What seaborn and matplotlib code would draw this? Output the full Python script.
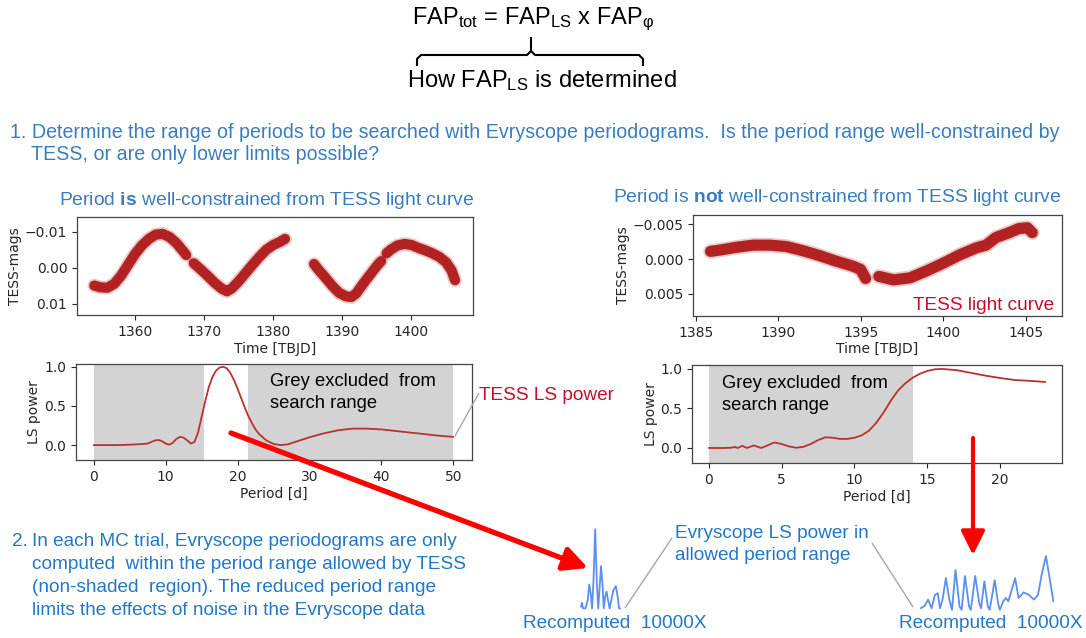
import matplotlib
matplotlib.use("Agg")
import matplotlib.pyplot as plt
from matplotlib.lines import Line2D
from matplotlib.patches import FancyArrowPatch
import pandas as pd
import seaborn as sns

# ---- data ----
# left TESS light curve (period well constrained), four orbit segments
lc_a_t = [
    [1354.1, 1355.0, 1356.0, 1357.0, 1358.0, 1359.0, 1360.0, 1361.0, 1362.0, 1363.0, 1364.0, 1365.0, 1366.0, 1367.0, 1367.4],
    [1368.5, 1369.5, 1370.5, 1371.5, 1372.5, 1373.3, 1374.0, 1375.0, 1376.0, 1377.0, 1378.0, 1379.0, 1380.0, 1381.0, 1381.7],
    [1385.9, 1386.5, 1387.5, 1388.5, 1389.5, 1390.5, 1391.3, 1392.0, 1393.0, 1394.0, 1395.0, 1395.6],
    [1396.4, 1397.0, 1398.0, 1399.0, 1400.0, 1401.0, 1402.0, 1403.0, 1404.0, 1405.0, 1405.8, 1406.3],
]
lc_a_mag = [
    [0.0050, 0.0055, 0.0056, 0.0045, 0.0022, -0.0008, -0.0038, -0.0062, -0.0080, -0.0092, -0.0094, -0.0085, -0.0068, -0.0045, -0.0035],
    [-0.0012, 0.0005, 0.0023, 0.0042, 0.0058, 0.0066, 0.0058, 0.0038, 0.0015, -0.0008, -0.0030, -0.0050, -0.0063, -0.0072, -0.0080],
    [-0.0010, 0.0005, 0.0027, 0.0050, 0.0070, 0.0080, 0.0082, 0.0072, 0.0045, 0.0020, -0.0005, -0.0018],
    [-0.0040, -0.0050, -0.0062, -0.0066, -0.0063, -0.0055, -0.0048, -0.0040, -0.0030, -0.0015, 0.0008, 0.0035],
]
# right TESS light curve (period not well constrained), two segments
lc_b_t = [
    [1385.9, 1386.5, 1387.5, 1388.5, 1389.5, 1390.5, 1391.5, 1392.5, 1393.5, 1394.5, 1395.0, 1395.3],
    [1396.1, 1397.0, 1398.0, 1399.0, 1400.0, 1401.0, 1402.0, 1402.6, 1403.2, 1404.0, 1404.6, 1405.1, 1405.4],
]
lc_b_mag = [
    [-0.0011, -0.0013, -0.0017, -0.0020, -0.0020, -0.0018, -0.0012, -0.0005, 0.0003, 0.0010, 0.0015, 0.0028],
    [0.0025, 0.0030, 0.0027, 0.0017, 0.0006, -0.0006, -0.0016, -0.0020, -0.0031, -0.0038, -0.0044, -0.0045, -0.0038],
]

# TESS LS periodograms
ls_a_period = [0, 1, 2, 3, 4, 5, 6, 7, 7.5, 8, 8.5, 9, 9.5, 10, 10.5, 11, 11.5, 12, 12.5, 13, 13.5, 14,
               14.5, 15, 15.5, 16, 16.5, 17, 17.5, 18, 18.5, 19, 19.5, 20, 20.5, 21, 21.5, 22, 22.5, 23,
               24, 25, 26, 27, 28, 29, 30, 32, 34, 36, 38, 40, 42, 44, 46, 48, 50]
ls_a_power = [0, 0, 0, 0, 0.002, 0.005, 0.01, 0.015, 0.02, 0.04, 0.06, 0.065, 0.05, 0.02, 0.005, 0.03,
              0.08, 0.105, 0.095, 0.06, 0.02, 0.04, 0.16, 0.36, 0.56, 0.74, 0.87, 0.95, 0.99, 1.0, 0.98,
              0.92, 0.83, 0.72, 0.60, 0.48, 0.37, 0.28, 0.20, 0.14, 0.06, 0.015, 0.0, 0.01, 0.04, 0.07,
              0.10, 0.15, 0.19, 0.21, 0.21, 0.20, 0.18, 0.16, 0.14, 0.12, 0.105]
ls_b_period = [0, 0.5, 1.0, 1.5, 1.8, 2.0, 2.3, 2.6, 3.1, 3.6, 4.0, 4.5, 5.0, 5.5, 6.0, 6.5, 7.0, 7.5,
               8.0, 8.5, 9.0, 9.5, 10.0, 10.5, 11.0, 11.5, 12.0, 12.5, 13.0, 13.5, 14.0, 14.5, 15.0,
               15.5, 16.0, 17.0, 18.0, 19.0, 20.0, 21.0, 22.0, 23.1]
ls_b_power = [0, 0, 0, 0.003, 0.012, 0.0, 0.028, 0.0, 0.032, 0.0, 0.03, 0.07, 0.05, 0.02, 0.003, 0.015,
              0.05, 0.1, 0.135, 0.13, 0.115, 0.115, 0.13, 0.16, 0.22, 0.32, 0.45, 0.6, 0.73, 0.82, 0.89,
              0.94, 0.975, 0.995, 1.0, 0.985, 0.95, 0.915, 0.885, 0.86, 0.85, 0.835]
excluded_a = [(0, 15.3), (21.4, 50)]
excluded_b = [(0, 14.0)]

# Evryscope LS power inside the allowed range (one MC trial each)
evr_a_period = [15.30, 15.46, 15.62, 15.99, 16.36, 16.57, 16.79, 17.00, 17.21, 17.48, 17.74, 17.95, 18.17,
                18.38, 18.59, 18.80, 19.02, 19.23, 19.44, 19.71, 19.97, 20.29, 20.66, 20.93, 21.14, 21.30]
evr_a_power = [0.02, 0.07, 0.0, 0.0, 0.11, 0.30, 0.19, 0.0, 0.32, 0.99, 0.32, 0.0, 0.27, 0.53, 0.32, 0.0,
               0.15, 0.21, 0.11, 0.0, 0.11, 0.23, 0.28, 0.15, 0.0, 0.0]
evr_b_period = [14.00, 14.28, 14.51, 14.75, 14.98, 15.17, 15.33, 15.50, 15.73, 15.97, 16.15, 16.39, 16.67,
                16.81, 17.04, 17.32, 17.44, 17.74, 18.02, 18.14, 18.37, 18.61, 18.73, 19.08, 19.31, 19.43,
                19.66, 19.85, 20.01, 20.25, 20.48, 20.71, 21.06, 21.42, 21.77, 22.05, 22.28, 22.59, 22.82, 23.10]
evr_b_power = [0.03, 0.075, 0.19, 0.03, 0.28, 0.31, 0.03, 0.19, 0.59, 0.19, 0.0, 0.74, 0.06, 0.0, 0.63,
               0.06, 0.0, 0.63, 0.125, 0.03, 0.53, 0.06, 0.0, 0.55, 0.125, 0.0, 0.16, 0.22, 0.16, 0.375,
               0.59, 0.22, 0.325, 0.28, 0.19, 0.28, 0.63, 1.0, 0.63, 0.16]

# ---- style ----
PALETTE = {
    "lc": "#b22222",
    "ls": "#b8322e",
    "label_red": "#c0102e",
    "blue": "#3a7cc0",
    "blue2": "#2277c6",
    "evr": "#5b8ff0",
    "grey_span": "#d3d3d3",
    "grey_line": "#a6a6a6",
    "arrow": "#ff0000",
}
sns.set_theme(
    style="ticks",
    rc={
        "axes.edgecolor": "#444444",
        "axes.linewidth": 0.9,
        "xtick.color": "#262626",
        "ytick.color": "#262626",
        "xtick.labelsize": 10,
        "ytick.labelsize": 10,
        "xtick.major.size": 3.5,
        "ytick.major.size": 3.5,
        "xtick.major.width": 0.8,
        "ytick.major.width": 0.8,
        "axes.labelsize": 10,
        "axes.labelpad": 2,
        "axes.labelcolor": "#262626",
        "mathtext.fontset": "custom",
        "mathtext.rm": "Liberation Sans",
        "mathtext.it": "Liberation Sans:italic",
        "mathtext.bf": "Liberation Sans:bold",
    },
)
plt.rcParams["font.family"] = ["DejaVu Sans"]
TXT = "Liberation Sans"

W, H = 1086, 638
fig = plt.figure(figsize=(W / 100, H / 100), dpi=100)


def box(l, t, r, b):
    return [l / W, 1 - b / H, (r - l) / W, (b - t) / H]


def pt(x, y):
    return (x / W, 1 - y / H)


def ftext(x, y, s, size=13.7, color="black", ha="left", **kw):
    fig.text(x / W, 1 - y / H, s, fontsize=size, color=color, ha=ha, va="center",
             fontfamily=TXT, **kw)


def fline(xs, ys, color, lw):
    fig.add_artist(Line2D([x / W for x in xs], [1 - y / H for y in ys],
                          transform=fig.transFigure, color=color, lw=lw,
                          solid_capstyle="butt", solid_joinstyle="round"))


def light_curve(ax, times, mags, lw):
    for t, m in zip(times, mags):
        seg = pd.DataFrame({"t": t, "mag": m})
        sns.lineplot(data=seg, x="t", y="mag", ax=ax, color=PALETTE["lc"], lw=lw + 2.5,
                     alpha=0.25, solid_capstyle="round")
        sns.lineplot(data=seg, x="t", y="mag", ax=ax, color=PALETTE["lc"], lw=lw,
                     solid_capstyle="round")
    ax.set_xlabel("Time [TBJD]")
    ax.set_ylabel("TESS-mags")


def periodogram(ax, period, power, spans):
    for lo, hi in spans:
        ax.axvspan(lo, hi, color=PALETTE["grey_span"], lw=0, zorder=0)
    sns.lineplot(x=period, y=power, ax=ax, color=PALETTE["ls"], lw=1.3)
    ax.set_yticks([0.0, 0.5, 1.0])
    ax.set_xlabel("Period [d]")
    ax.set_ylabel("LS power")


# ---- light curves ----
ax1 = fig.add_axes(box(77, 217, 473, 315))
light_curve(ax1, lc_a_t, lc_a_mag, 7.3)
ax1.set_xlim(1351.6, 1408.9)
ax1.set_ylim(0.0132, -0.0141)
ax1.set_yticks([-0.01, 0.0, 0.01])
ax1.set_yticklabels(["\u22120.01", "0.00", "0.01"])

ax2 = fig.add_axes(box(693, 215, 1062, 316))
light_curve(ax2, lc_b_t, lc_b_mag, 8.0)
ax2.set_xlim(1384.84, 1407.2)
ax2.set_ylim(0.0082, -0.00634)
ax2.set_yticks([-0.005, 0.0, 0.005])
ax2.set_yticklabels(["\u22120.005", "0.000", "0.005"])

# ---- periodograms ----
ax3 = fig.add_axes(box(76, 364, 472, 460))
periodogram(ax3, ls_a_period, ls_a_power, excluded_a)
ax3.set_xlim(-2.47, 52.6)
ax3.set_ylim(-0.19, 1.035)

ax4 = fig.add_axes(box(692, 365, 1062, 463))
periodogram(ax4, ls_b_period, ls_b_power, excluded_b)
ax4.set_xlim(-1.15, 24.24)
ax4.set_ylim(-0.19, 1.05)

# ---- Evryscope mini periodograms ----
ax5 = fig.add_axes(box(579, 527, 622, 610))
sns.lineplot(x=evr_a_period, y=evr_a_power, ax=ax5, color=PALETTE["evr"], lw=1.3)
ax5.set_ylim(-0.02, 1.02)
ax5.axis("off")

ax6 = fig.add_axes(box(914, 555, 1060, 612))
sns.lineplot(x=evr_b_period, y=evr_b_power, ax=ax6, color=PALETTE["evr"], lw=1.3)
ax6.set_ylim(-0.04, 1.02)
ax6.axis("off")

# ---- header ----
ftext(533, 19, r"FAP$_{\mathrm{tot}}$ = FAP$_{\mathrm{LS}}$ x FAP$_{\mathrm{φ}}$", size=17, ha="center")
ftext(542, 81, r"How FAP$_{\mathrm{LS}}$ is determined", size=17, ha="center")
fline([417, 417, 421, 527, 531, 531], [66, 59, 55, 55, 51, 37], "black", 1.5)
fline([531, 535, 639, 643, 643], [51, 55, 55, 59, 66], "black", 1.5)

ftext(10, 132, "1. Determine the range of periods to be searched with Evryscope periodograms.  "
      "Is the period range well-constrained by", size=14.15, color=PALETTE["blue"])
ftext(31, 155, "TESS, or are only lower limits possible?", size=14.15, color=PALETTE["blue"])

ftext(59, 200, r"Period $\mathbf{is}$ well-constrained from TESS light curve", size=13.9,
      color=PALETTE["blue"])
ftext(613, 198, r"Period is $\mathbf{not}$ well-constrained from TESS light curve", size=13.9,
      color=PALETTE["blue"])

# ---- annotations ----
ftext(913, 305, "TESS light curve", color=PALETTE["label_red"])
ftext(479, 396, "TESS LS power", color=PALETTE["label_red"])
fline([479, 455], [393, 436], PALETTE["grey_line"], 1.0)
ftext(270, 382, "Grey excluded  from", size=13.2)
ftext(270, 404, "search range", size=13.2)
ftext(722, 383, "Grey excluded  from", size=13.2)
ftext(722, 405, "search range", size=13.2)

para2 = [
    "In each MC trial, Evryscope periodograms are only",
    "computed  within the period range allowed by TESS",
    "(non-shaded  region). The reduced period range",
    "limits the effects of noise in the Evryscope data",
]
ftext(12, 542, "2.", color=PALETTE["blue2"])
for i, line in enumerate(para2):
    ftext(32, 542 + i * 22.7, line, color=PALETTE["blue2"])

ftext(675, 533, "Evryscope LS power in", color=PALETTE["blue2"])
ftext(675, 555, "allowed period range", color=PALETTE["blue2"])
fline([625, 672], [608, 538], PALETTE["grey_line"], 1.0)
fline([872, 913], [543, 607], PALETTE["grey_line"], 1.0)
ftext(523, 623, "Recomputed  10000X", color=PALETTE["blue2"])
ftext(899, 623, "Recomputed  10000X", color=PALETTE["blue2"])

# ---- red arrows ----
for start, end, lw in [((231, 433), (588, 568), 3.8), ((973, 438), (973, 555), 3.0)]:
    fig.add_artist(FancyArrowPatch(pt(*start), pt(*end), transform=fig.transFigure,
                                   arrowstyle="-|>,head_length=0.9,head_width=0.45",
                                   mutation_scale=16, color=PALETTE["arrow"], lw=lw,
                                   shrinkA=0, shrinkB=0, zorder=5))

fig.savefig("out.png", dpi=100)
